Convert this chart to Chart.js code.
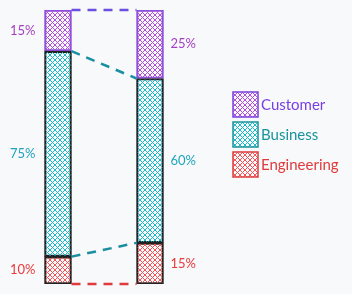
<!DOCTYPE html>
<html>
<head>
<meta charset="utf-8">
<script src="https://cdn.jsdelivr.net/npm/chart.js@4/dist/chart.umd.min.js"></script>
<style>
  html, body { margin: 0; padding: 0; background: #f8f9fb; }
  #wrap { width: 352px; height: 294px; position: relative; }
</style>
</head>
<body>
<div id="wrap"><canvas id="myChart" width="352" height="294"></canvas></div>
<script>
// data
const stages = ["Before", "After"];
const engineering = [10, 15];
const business = [75, 60];
const customer = [15, 25];
const seriesNames = ["Engineering", "Business", "Customer"];

const colors = {
  Customer: { hatch: "#b050d8", border: "#8e4fdc", text: "#a43fc4", legend: "#7a3fe0" },
  Business: { hatch: "#1fb8c8", border: "#222222", text: "#1fa4bc", legend: "#17939c" },
  Engineering: { hatch: "#f25555", border: "#222222", text: "#e83838", legend: "#e03a3a" },
};

// cross hatch pattern
function hatch(color) {
  const c = document.createElement("canvas");
  c.width = 5;
  c.height = 5;
  const g = c.getContext("2d");
  g.strokeStyle = color;
  g.lineWidth = 1;
  g.beginPath();
  g.moveTo(0, 0); g.lineTo(5, 5);
  g.moveTo(5, 0); g.lineTo(0, 5);
  g.stroke();
  return g.createPattern(c, "repeat");
}

const ctx = document.getElementById("myChart").getContext("2d");

const FONT = "Lato, 'Noto Sans', sans-serif";

const extras = {
  id: "extras",
  afterDatasetsDraw(chart) {
    const c = chart.ctx;
    const metas = [0, 1, 2].map((i) => chart.getDatasetMeta(i));
    // metas: 0 engineering, 1 business, 2 customer
    const b0 = (m) => m.data[0];
    const b1 = (m) => m.data[1];

    // dashed connectors from top to bottom
    const lines = [
      [b0(metas[2]).y, b1(metas[2]).y, "#6b4fe0"],
      [b0(metas[1]).y, b1(metas[1]).y, "#1a8fa0"],
      [b0(metas[0]).y, b1(metas[0]).y, "#1a8fa0"],
      [b0(metas[0]).base, b1(metas[0]).base, "#e03a3a"],
    ];
    const xl = b0(metas[0]).x + b0(metas[0]).width / 2;
    const xr = b1(metas[0]).x - b1(metas[0]).width / 2;
    c.save();
    c.lineWidth = 2.5;
    c.setLineDash([9, 7]);
    lines.forEach(([y0, y1, col]) => {
      c.strokeStyle = col;
      c.beginPath();
      c.moveTo(xl, y0);
      c.lineTo(xr, y1);
      c.stroke();
    });
    c.restore();

    // percentage labels
    c.save();
    c.font = "13px " + FONT;
    c.textBaseline = "middle";
    metas.forEach((m, i) => {
      const col = colors[seriesNames[i]].text;
      const data = chart.data.datasets[i].data;
      c.fillStyle = col;
      const a = m.data[0];
      c.textAlign = "right";
      c.fillText(data[0] + "%", a.x - a.width / 2 - 9, (a.y + a.base) / 2);
      const b = m.data[1];
      c.textAlign = "left";
      c.fillText(data[1] + "%", b.x + b.width / 2 + 7, (b.y + b.base) / 2);
    });
    c.restore();

    // legend
    c.save();
    c.font = "15px " + FONT;
    c.textBaseline = "middle";
    c.textAlign = "left";
    ["Customer", "Business", "Engineering"].forEach((name, i) => {
      const x = 233, y = 92 + i * 30, s = 25;
      c.fillStyle = hatch(colors[name].hatch);
      c.fillRect(x, y, s, s);
      c.strokeStyle = colors[name].legend;
      c.lineWidth = 1.5;
      c.strokeRect(x, y, s, s);
      c.fillStyle = colors[name].legend;
      c.fillText(name, x + s + 3, y + s / 2 + 1);
    });
    c.restore();
  },
};

const myChart = new Chart(ctx, {
  type: "bar",
  data: {
    labels: stages,
    datasets: [
      {
        label: "Engineering",
        data: engineering,
        backgroundColor: hatch(colors.Engineering.hatch),
        borderColor: colors.Engineering.border,
        borderWidth: 1.5,
        borderSkipped: false,
      },
      {
        label: "Business",
        data: business,
        backgroundColor: hatch(colors.Business.hatch),
        borderColor: colors.Business.border,
        borderWidth: 1.5,
        borderSkipped: false,
      },
      {
        label: "Customer",
        data: customer,
        backgroundColor: hatch(colors.Customer.hatch),
        borderColor: colors.Customer.border,
        borderWidth: 1.5,
        borderSkipped: false,
      },
    ],
  },
  options: {
    responsive: false,
    animation: false,
    barThickness: 27,
    layout: { padding: { left: 12, right: 156, top: 10, bottom: 10 } },
    plugins: { legend: { display: false }, tooltip: { enabled: false } },
    scales: {
      x: { stacked: true, display: false },
      y: { stacked: true, display: false, min: 0, max: 100 },
    },
  },
  plugins: [extras],
});
</script>
</body>
</html>
